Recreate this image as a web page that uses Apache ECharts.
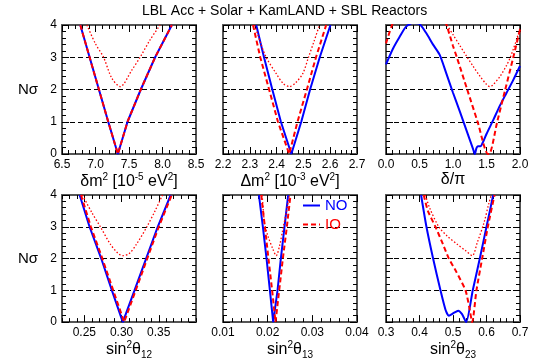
<!DOCTYPE html>
<html>
<head>
<meta charset="utf-8">
<script src="https://cdn.jsdelivr.net/npm/echarts@6/dist/echarts.min.js"></script>
<style>
  html, body { margin: 0; padding: 0; background: #fff; }
  #chart { width: 559px; height: 361px; }
</style>
</head>
<body>
<div id="chart"></div>
<script>
// ---- values: [x, N sigma] ----
// delta m^2_21 [1e-5 eV^2]
var dm21NO  = [[6.773,4],[6.912,3],[7.051,2],[7.19,1],[7.334,0],[7.478,1],[7.676,2],[7.89,3],[8.14,4]];
var dm21IO  = [[6.773,4],[6.912,3],[7.051,2],[7.19,1],[7.334,0],[7.478,1],[7.676,2],[7.89,3],[8.14,4]];
var dm21IOd = [[6.872,4],[6.996,3.43],[7.12,3],[7.244,2.35],[7.368,2.09],[7.542,2.6],[7.666,3],[7.815,3.54],[7.964,4]];
// Delta m^2 [1e-3 eV^2]
var dm31NO  = [[2.324,4],[2.353,3],[2.384,2],[2.416,1],[2.455,0],[2.492,1],[2.525,2],[2.561,3],[2.601,4]];
var dm31IO  = [[2.312,4],[2.339,3],[2.372,2],[2.405,1],[2.447,0],[2.478,1],[2.513,2],[2.547,3],[2.585,4]];
var dm31IOd = [[2.318,4],[2.34,3.45],[2.361,3],[2.398,2.5],[2.425,2.18],[2.448,2.09],[2.47,2.2],[2.498,2.5],[2.519,3],[2.54,3.5],[2.56,4]];
// delta / pi
var dcpNO  = [[0,2.78],[0.1,3.25],[0.2,3.62],[0.3,3.95],[0.4,4.06],[0.5,4.03],[0.6,3.75],[0.7,3.4],[0.8,3.08],[0.9,2.5],[1.0,1.9],[1.1,1.33],[1.2,0.74],[1.3,0.15],[1.325,0],[1.35,0.18],[1.37,0.24],[1.41,0.24],[1.45,0.38],[1.5,0.62],[1.6,1.05],[1.7,1.5],[1.8,1.9],[1.9,2.3],[2.0,2.73]];
var dcpIO  = [[0,3.43],[0.09,4],[0.2,4.5],[0.5,4.8],[0.8,4.5],[0.903,4],[1.0,3.35],[1.057,3],[1.212,2],[1.367,1],[1.521,0],[1.54,0],[1.66,1],[1.78,2],[1.9,3],[2.0,3.85]];
var dcpIOd = [[0.913,4],[1.0,3.7],[1.1,3.37],[1.2,3.04],[1.3,2.72],[1.4,2.42],[1.5,2.16],[1.55,2.09],[1.6,2.15],[1.7,2.4],[1.8,2.75],[1.85,2.97],[1.9,3.25],[1.95,3.55],[2.0,3.9]];
// sin^2 theta12
var s12NO  = [[0.2437,4],[0.257,3],[0.2727,2],[0.287,1],[0.3017,0],[0.3174,1],[0.333,2],[0.3486,3],[0.366,4]];
var s12IO  = [[0.2455,4],[0.2588,3],[0.2742,2],[0.2888,1],[0.3035,0],[0.319,1],[0.3345,2],[0.350,3],[0.3674,4]];
var s12IOd = [[0.2475,4],[0.26,3.45],[0.2715,3],[0.285,2.45],[0.295,2.17],[0.3017,2.09],[0.31,2.15],[0.32,2.45],[0.334,3],[0.345,3.5],[0.355,4]];
// sin^2 theta13
var s13NO  = [[0.01804,4],[0.01893,3],[0.01975,2],[0.0205,1],[0.02124,0],[0.02221,1],[0.02295,2],[0.02377,3],[0.02459,4]];
var s13IO  = [[0.01856,4],[0.01937,3],[0.02018,2],[0.021,1],[0.02176,0],[0.02258,1],[0.0234,2],[0.0243,3],[0.02511,4]];
var s13IOd = [[0.01878,4],[0.0193,3.12],[0.02005,2.71],[0.02117,2.3],[0.02191,2.09],[0.02266,2.4],[0.0234,2.92],[0.02414,3.43],[0.02489,4]];
// sin^2 theta23
var s23NO  = [[0.4047,4],[0.4207,3],[0.4406,2],[0.4626,1],[0.4776,0.39],[0.4875,0.2],[0.5025,0.29],[0.5155,0.36],[0.527,0.25],[0.5394,0],[0.559,1],[0.58,2],[0.6,3],[0.62,4]];
var s23IO  = [[0.4127,4],[0.425,3.5],[0.4476,3],[0.47,2.45],[0.4875,2],[0.51,1.58],[0.5374,1],[0.548,0.5],[0.5574,0],[0.570,1],[0.587,2],[0.604,3],[0.624,4]];
var s23IOd = [[0.4177,4],[0.43,3.6],[0.4576,3],[0.4825,2.71],[0.5125,2.45],[0.5374,2.25],[0.5574,2.09],[0.5723,2.5],[0.5923,3.12],[0.6072,3.74],[0.6142,4]];

var s12Labels = [0.25, 0.30, 0.35];

var FONT = 'Liberation Sans, Arial, Helvetica, sans-serif';
var FRAME = '#555';
var chart = echarts.init(document.getElementById('chart'));

var rich = {
  a: { fontSize: 16, fontFamily: FONT, color: '#000', lineHeight: 20 },
  s: { fontSize: 10, fontFamily: FONT, color: '#000', lineHeight: 10, verticalAlign: 'top' },
  b: { fontSize: 10, fontFamily: FONT, color: '#000', lineHeight: 10, verticalAlign: 'bottom' }
};

var panels = [
  { min: 6.5, max: 8.5, interval: 0.5, dec: 1, no: dm21NO, io: dm21IO, iod: dm21IOd,
    name: '{a|δm}{s|2}{a| [10}{s|-5}{a| eV}{s|2}{a|]}' },
  { min: 2.2, max: 2.7, interval: 0.1, dec: 1, no: dm31NO, io: dm31IO, iod: dm31IOd,
    name: '{a|Δm}{s|2}{a| [10}{s|-3}{a| eV}{s|2}{a|]}' },
  { min: 0, max: 2, interval: 0.5, dec: 1, no: dcpNO, io: dcpIO, iod: dcpIOd, smooth: 0.25,
    name: '{a|δ/π}' },
  { min: 0.22, max: 0.40, custom: s12Labels, dec: 2, no: s12NO, io: s12IO, iod: s12IOd,
    name: '{a|sin}{s|2}{a|θ}{b|12}' },
  { min: 0.01, max: 0.04, interval: 0.01, dec: 2, no: s13NO, io: s13IO, iod: s13IOd,
    name: '{a|sin}{s|2}{a|θ}{b|13}' },
  { min: 0.3, max: 0.7, interval: 0.1, dec: 1, no: s23NO, io: s23IO, iod: s23IOd, smooth: 0.2,
    name: '{a|sin}{s|2}{a|θ}{b|23}' }
];

var lefts = [62, 223, 386], tops = [25, 195], W = 134, H = 129;
var grids = [], xAxes = [], yAxes = [], series = [];

function tick(len) {
  return { show: true, inside: true, length: len, interval: 0,
           lineStyle: { color: '#000', width: 1, opacity: 1 } };
}

function xAxis(p, i, pos, labels) {
  var ax = {
    type: 'value', gridIndex: i, position: pos, min: p.min, max: p.max,
    axisLine: { show: true, onZero: false, lineStyle: { color: FRAME, width: 2 } },
    axisTick: tick(7),
    minorTick: { show: true, splitNumber: 5, length: 4, lineStyle: { color: '#000', width: 1 } },
    splitLine: { show: false },
    axisLabel: {
      show: labels, margin: 5, fontSize: 12, fontFamily: FONT, color: '#000',
      formatter: function (v) { return v.toFixed(p.dec); }
    }
  };
  if (labels) {
    ax.name = p.name;
    ax.nameLocation = 'middle';
    ax.nameGap = 14;
    ax.nameTextStyle = { rich: rich };
  }
  if (p.custom) {
    ax.axisTick.customValues = p.custom;
    ax.axisLabel.customValues = p.custom;
    ax.minorTick = { show: false };
  } else {
    ax.interval = p.interval;
  }
  return ax;
}

panels.forEach(function (p, i) {
  var col = i % 3, row = Math.floor(i / 3);
  grids.push({ left: lefts[col], top: tops[row], width: W, height: H });

  var bx = xAxes.length;
  xAxes.push(xAxis(p, i, 'bottom', true));
  xAxes.push(xAxis(p, i, 'top', false));
  if (p.custom) {
    ['bottom', 'top'].forEach(function (pos) {
      xAxes.push({
        type: 'value', gridIndex: i, position: pos, min: p.min, max: p.max, interval: 0.01,
        axisLine: { show: false, onZero: false }, splitLine: { show: false }, axisLabel: { show: false },
        axisTick: tick(4)
      });
    });
  }

  var ly = yAxes.length;
  [['left', true], ['right', false]].forEach(function (d) {
    var ya = {
      type: 'value', gridIndex: i, position: d[0], min: 0, max: 4, interval: 1,
      axisLine: { show: true, onZero: false, lineStyle: { color: FRAME, width: 2 } },
      axisTick: tick(7),
      minorTick: { show: true, splitNumber: 5, length: 4, lineStyle: { color: '#000', width: 1 } },
      axisLabel: { show: d[1] && col === 0, margin: 5, fontSize: 12, fontFamily: FONT, color: '#000' },
      splitLine: d[1] ? {
        show: true, showMinLine: false, showMaxLine: false,
        lineStyle: { color: '#000', width: 1, type: [5, 3] }
      } : { show: false }
    };
    if (d[1] && col === 0) {
      ya.name = 'Nσ';
      ya.nameLocation = 'middle';
      ya.nameRotate = 0;
      ya.nameGap = 24;
      ya.nameTextStyle = { fontSize: 15, fontFamily: FONT, color: '#000' };
    }
    yAxes.push(ya);
  });

  var sm = p.smooth || false;
  series.push({
    type: 'line', name: 'NO', xAxisIndex: bx, yAxisIndex: ly, data: p.no,
    symbol: 'none', smooth: sm, clip: true,
    lineStyle: { color: '#0000ff', width: 2 }, itemStyle: { color: '#0000ff' }
  });
  series.push({
    type: 'line', name: 'IO', xAxisIndex: bx, yAxisIndex: ly, data: p.io,
    symbol: 'none', smooth: sm, clip: true,
    lineStyle: { color: '#ff0000', width: 2, type: [5, 3] }, itemStyle: { color: '#ff0000' }
  });
  series.push({
    type: 'line', name: 'IO dotted', xAxisIndex: bx, yAxisIndex: ly, data: p.iod,
    symbol: 'none', smooth: 0.3, clip: true,
    lineStyle: { color: '#ff0000', width: 1.3, type: [1.5, 2] }, itemStyle: { color: '#ff0000' }
  });
});

chart.setOption({
  animation: false,
  title: {
    text: 'LBL Acc + Solar + KamLAND + SBL Reactors',
    left: 142, top: 4, padding: 0,
    textStyle: { fontSize: 14, fontWeight: 'normal', fontFamily: FONT, color: '#000' }
  },
  legend: {
    data: [
      { name: 'NO', textStyle: { color: '#0000ff' } },
      { name: 'IO', textStyle: { color: '#ff0000' } }
    ],
    orient: 'vertical', left: 302, top: 198, padding: 0,
    itemWidth: 17, itemHeight: 12, itemGap: 4,
    itemStyle: { opacity: 0 },
    textStyle: { fontSize: 15, fontFamily: FONT },
    selectedMode: false
  },
  grid: grids,
  xAxis: xAxes,
  yAxis: yAxes,
  series: series
});

window.addEventListener('resize', function () {
  chart.resize();
});
</script>
</body>
</html>
